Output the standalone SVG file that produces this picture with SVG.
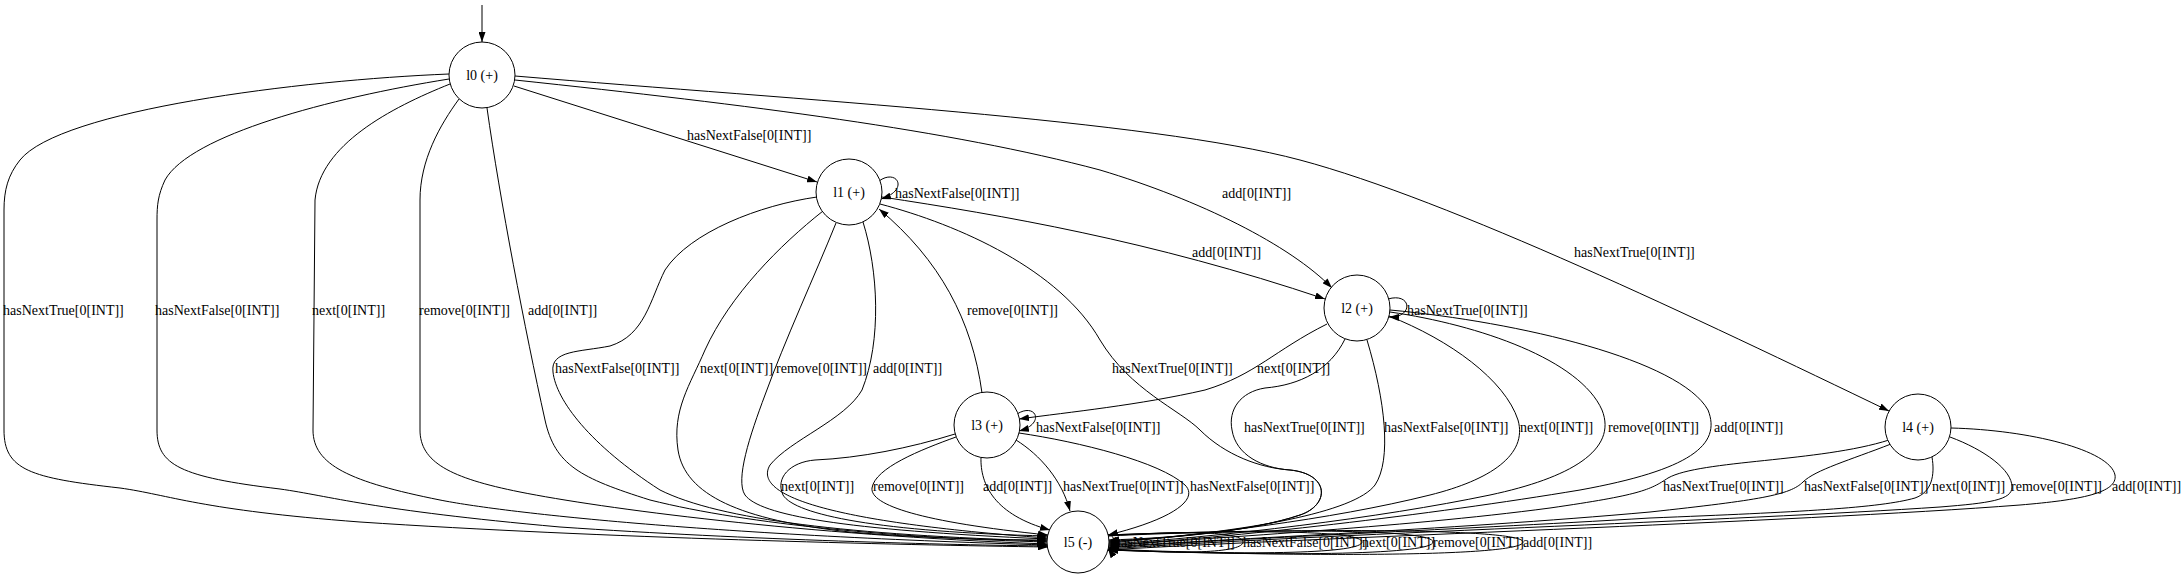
<svg xmlns="http://www.w3.org/2000/svg" width="2184" height="575" viewBox="0 0 2184 575">
<style>
.node circle{fill:#fff;stroke:#000;stroke-width:1}
.edges path{fill:none;stroke:#000;stroke-width:1;marker-end:url(#arr)}
text{font-family:"Liberation Serif","Times New Roman",serif;font-size:14px;fill:#000}
.nl{text-anchor:middle}
</style>
<defs>
<marker id="arr" markerWidth="10" markerHeight="7" refX="10" refY="3.5" orient="auto" markerUnits="userSpaceOnUse"><path d="M0,0 L10,3.5 L0,7 z" fill="#000"/></marker>
</defs>
<rect width="2184" height="575" fill="#fff"/>
<g class="edges" id="edges">
<path d="M482,5 L482,42"/>
<!-- l0 -->
<path d="M514,86 L817,182"/>
<text x="687" y="140">hasNextFalse[0[INT]]</text>
<path d="M515,80 C750,105 950,130 1100,170 C1200,200 1290,245 1332,288"/>
<text x="1222" y="198">add[0[INT]]</text>
<path d="M515,76 C800,100 1150,120 1300,160 C1450,200 1700,320 1889,411"/>
<text x="1574" y="257">hasNextTrue[0[INT]]</text>
<path d="M449,74 C300,80 60,110 20,160 C8,175 4,190 4,210 L4,430 C4,470 30,478 120,488 C170,495 200,510 360,522 C600,538 900,545 1048,547"/>
<text x="3" y="315">hasNextTrue[0[INT]]</text>
<path d="M449,79 C330,98 190,135 165,180 C158,195 157,205 157,220 L157,430 C157,465 180,477 280,489 C330,496 370,510 560,527 C750,540 950,545 1048,546"/>
<text x="155" y="315">hasNextFalse[0[INT]]</text>
<path d="M450,84 C390,108 320,145 315,200 L313,430 C313,465 350,482 440,500 C500,512 700,535 1048,545"/>
<text x="312" y="315">next[0[INT]]</text>
<path d="M459,99 C440,125 420,160 420,200 L420,430 C420,462 450,478 520,492 C600,508 800,535 1047,544"/>
<text x="419" y="315">remove[0[INT]]</text>
<path d="M487,108 C500,200 525,330 545,420 C555,465 580,478 650,500 C750,525 900,538 1047,542"/>
<text x="528" y="315">add[0[INT]]</text>
<!-- l1 -->
<path d="M879,181 C897,168 910,190 881,199"/>
<text x="895" y="198">hasNextFalse[0[INT]]</text>
<path d="M882,197 C1000,215 1150,240 1325,299"/>
<text x="1192" y="257">add[0[INT]]</text>
<path d="M817,197 C760,205 690,232 665,270 C650,300 645,335 610,346 C580,352 550,350 553,372 C556,400 590,445 660,490 C720,520 850,535 1047,541"/>
<text x="555" y="373">hasNextFalse[0[INT]]</text>
<path d="M823,211 C780,245 730,295 705,350 C690,385 672,410 678,450 C685,495 740,520 850,532 C920,538 990,540 1047,540"/>
<text x="700" y="373">next[0[INT]]</text>
<path d="M836,223 C815,275 785,340 765,395 C750,435 735,480 745,495 C760,515 840,530 1047,539"/>
<text x="776" y="373">remove[0[INT]]</text>
<path d="M863,222 C878,270 882,340 862,390 C845,420 790,440 770,465 C755,490 800,520 1047,538"/>
<text x="873" y="373">add[0[INT]]</text>
<path d="M880,204 C960,225 1060,270 1100,340 C1130,390 1180,410 1200,430 C1225,455 1260,468 1290,470 C1330,474 1330,505 1300,515 C1250,532 1170,538 1109,540"/>
<text x="1112" y="373">hasNextTrue[0[INT]]</text>
<!-- l2 -->
<path d="M1388,299 C1412,292 1414,318 1389,317"/>
<text x="1407" y="315">hasNextTrue[0[INT]]</text>
<path d="M1327,324 C1275,350 1255,375 1205,390 C1140,405 1070,412 1019,419"/>
<text x="1257" y="373">next[0[INT]]</text>
<path d="M1345,339 C1330,370 1300,385 1265,388 C1240,392 1228,410 1232,430 C1236,455 1262,468 1290,470 C1330,474 1330,505 1300,515 C1250,532 1170,538 1109,541"/>
<text x="1244" y="432">hasNextTrue[0[INT]]</text>
<path d="M1367,340 C1385,400 1392,460 1375,485 C1355,512 1250,532 1109,542"/>
<text x="1384" y="432">hasNextFalse[0[INT]]</text>
<path d="M1389,316 C1450,340 1505,380 1518,420 C1528,455 1490,480 1430,495 C1330,520 1200,535 1109,543"/>
<text x="1520" y="432">next[0[INT]]</text>
<path d="M1390,312 C1480,325 1580,360 1602,410 C1618,450 1570,478 1490,495 C1380,518 1220,537 1109,544"/>
<text x="1608" y="432">remove[0[INT]]</text>
<path d="M1390,310 C1520,322 1680,360 1708,410 C1722,445 1690,470 1580,490 C1430,515 1230,538 1109,545"/>
<text x="1714" y="432">add[0[INT]]</text>
<!-- l3 -->
<path d="M982,393 C972,320 940,260 879,209"/>
<text x="967" y="315">remove[0[INT]]</text>
<path d="M1017,414 C1036,402 1046,424 1019,431"/>
<text x="1036" y="432">hasNextFalse[0[INT]]</text>
<path d="M955,434 C910,448 860,458 815,460 C790,462 775,478 783,495 C795,515 880,532 1048,536"/>
<text x="781" y="491">next[0[INT]]</text>
<path d="M956,437 C920,450 875,468 872,488 C870,505 920,522 1048,535"/>
<text x="873" y="491">remove[0[INT]]</text>
<path d="M981,457 C980,485 995,515 1050,530"/>
<text x="983" y="491">add[0[INT]]</text>
<path d="M1016,440 C1040,455 1062,480 1070,511"/>
<text x="1063" y="491">hasNextTrue[0[INT]]</text>
<path d="M1019,433 C1080,442 1160,462 1185,485 C1200,500 1170,520 1108,535"/>
<text x="1190" y="491">hasNextFalse[0[INT]]</text>
<!-- l4 -->
<path d="M1889,440 C1820,462 1700,460 1668,478 C1650,490 1640,495 1550,508 C1400,528 1200,538 1109,546"/>
<text x="1663" y="491">hasNextTrue[0[INT]]</text>
<path d="M1891,444 C1850,460 1815,470 1803,482 C1790,495 1760,500 1650,512 C1450,530 1200,540 1109,547"/>
<text x="1804" y="491">hasNextFalse[0[INT]]</text>
<path d="M1932,457 C1935,475 1932,492 1915,498 C1880,508 1800,512 1650,518 C1450,530 1200,540 1108,548"/>
<text x="1932" y="491">next[0[INT]]</text>
<path d="M1950,437 C1985,450 2012,470 2012,487 C2012,500 1990,503 1940,507 C1750,520 1300,535 1108,549"/>
<text x="2011" y="491">remove[0[INT]]</text>
<path d="M1951,428 C2030,430 2110,450 2115,475 C2118,493 2080,500 2020,505 C1800,522 1300,538 1107,550"/>
<text x="2112" y="491">add[0[INT]]</text>
<!-- l5 loops -->
<path d="M1106,537 C1110,533 1114,536 1114,542 C1114,548 1110,551 1108,548"/>
<text x="1114" y="547">hasNextTrue[0[INT]]</text>
<path d="M1106,536 C1190,530 1243,532 1243,542 C1243,552 1190,555 1108,549"/>
<text x="1243" y="547">hasNextFalse[0[INT]]</text>
<path d="M1106,536 C1260,529 1362,531 1362,542 C1362,553 1260,556 1108,549"/>
<text x="1362" y="547">next[0[INT]]</text>
<path d="M1106,535 C1300,528 1433,530 1433,542 C1433,554 1300,557 1108,550"/>
<text x="1433" y="547">remove[0[INT]]</text>
<path d="M1105,535 C1350,527 1523,530 1523,542 C1523,555 1350,558 1108,550"/>
<text x="1523" y="547">add[0[INT]]</text>
</g>
<g id="l0" class="node"><circle cx="482" cy="75" r="33"/><text class="nl" x="482" y="80">l0 (+)</text></g>
<g id="l1" class="node"><circle cx="849" cy="192" r="33"/><text class="nl" x="849" y="197">l1 (+)</text></g>
<g id="l2" class="node"><circle cx="1357" cy="308" r="33"/><text class="nl" x="1357" y="313">l2 (+)</text></g>
<g id="l3" class="node"><circle cx="987" cy="425" r="33"/><text class="nl" x="987" y="430">l3 (+)</text></g>
<g id="l4" class="node"><circle cx="1918" cy="427" r="33"/><text class="nl" x="1918" y="432">l4 (+)</text></g>
<g id="l5" class="node"><circle cx="1078" cy="542" r="31"/><text class="nl" x="1078" y="547">l5 (-)</text></g>
</svg>
